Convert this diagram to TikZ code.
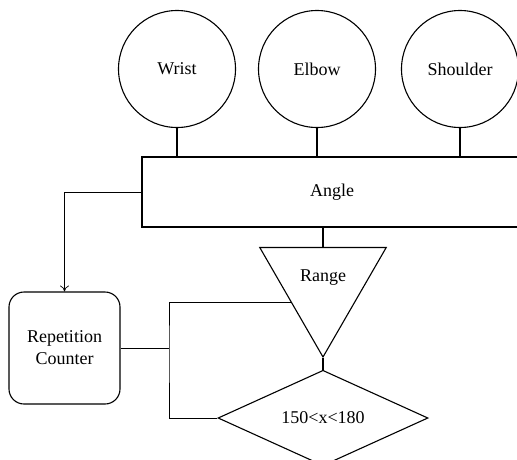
\documentclass[tikz,border=0pt]{standalone}
\usepackage{fontspec}
\setmainfont{Liberation Serif}
\usetikzlibrary{shapes.geometric, arrows.meta}

\begin{document}
\begin{tikzpicture}[x=1pt,y=-1pt,
  joint/.style={draw,circle,line width=1.1pt,minimum size=117pt,inner sep=0pt},
  wire/.style={line width=0.7pt},
  link/.style={line width=1.1pt},
  every node/.style={font=\rmfamily\fontsize{18}{22}\selectfont}]
\useasboundingbox (0,0) rectangle (517,459);

\node[joint] (wrist) at (177,69) {Wrist};
\node[joint] (elbow) at (317,69) {Elbow};
\node[joint] (shoulder) at (460,69) {Shoulder};

\node[draw,line width=1.1pt,minimum width=380pt,minimum height=70pt,inner sep=0pt] (angle) at (332,192) {Angle};

\node[draw,line width=1.1pt,regular polygon,regular polygon sides=3,shape border rotate=180,minimum size=146pt,inner sep=0pt,
  label={[yshift=6pt]center:Range}] (range) at (323,284) {};
\node[draw,line width=1.1pt,diamond,minimum width=210pt,minimum height=90pt,inner sep=0pt] (cond) at (323,418) {150<x<180};

\node[draw,line width=1.1pt,rounded corners=15pt,minimum width=111pt,minimum height=112pt,align=center,inner sep=0pt] (counter) at (64.5,348) {Repetition\\Counter};

\coordinate (split) at (169,348);

\draw[link] (wrist.south) -- (wrist.south |- angle.north);
\draw[link] (elbow.south) -- (elbow.south |- angle.north);
\draw[link] (shoulder.south) -- (shoulder.south |- angle.north);
\draw[link] (range.north) -- (range.north |- angle.south);
\draw[link] (range.corner 1) -- (cond.north);

\draw[wire,-{To[length=6pt,width=9pt]}] (angle.west) -| (counter.north);
\draw[wire] (counter.east) -- (split);
\draw[wire] (range.side 3) -| (split) |- (cond.west);
\end{tikzpicture}
\end{document}
